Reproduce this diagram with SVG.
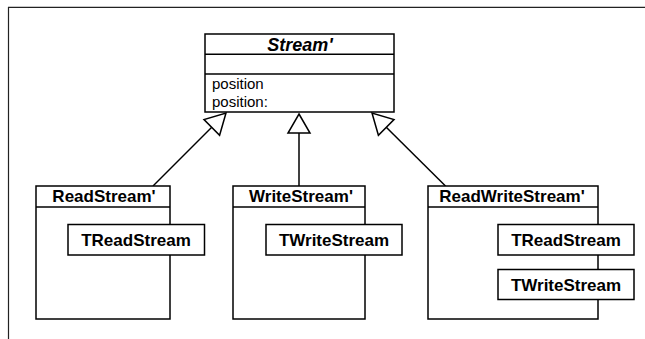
<svg xmlns="http://www.w3.org/2000/svg" width="645" height="339" viewBox="0 0 645 339">
<style>
.box{fill:#fff;stroke:#000;stroke-width:1.5}
.ln{fill:none;stroke:#000;stroke-width:1.5}
.tri{fill:#fff;stroke:#000;stroke-width:1.5;stroke-linejoin:miter}
.h{font-family:"Liberation Sans",Arial,sans-serif;font-weight:bold;font-size:17px;text-anchor:middle}
.hi{font-family:"Liberation Sans",Arial,sans-serif;font-weight:bold;font-style:italic;font-size:18px;text-anchor:middle}
.t{font-family:"Liberation Sans",Arial,sans-serif;font-size:15px}
</style>
<rect width="645" height="339" fill="#fff"/>
<path d="M8.5,340 V7.3 H646" fill="none" stroke="#222" stroke-width="1.2"/>
<g id="connectors">
<line class="ln" x1="153" y1="186" x2="212" y2="127"/>
<polygon class="tri" points="226,113 219.6,135.2 204,119.6"/>
<line class="ln" x1="299" y1="186" x2="299" y2="133"/>
<polygon class="tri" points="299,114 310,133 288,133"/>
<line class="ln" x1="445.5" y1="186" x2="386" y2="127"/>
<polygon class="tri" points="372,113 378.4,135.2 394,119.6"/>
</g>
<g id="Stream">
<rect class="box" x="205" y="34" width="189" height="78"/>
<line class="ln" x1="205" y1="54.3" x2="394" y2="54.3"/>
<line class="ln" x1="205" y1="74" x2="394" y2="74"/>
<text class="hi" x="300" y="51">Stream'</text>
<text class="t" x="212" y="89">position</text>
<text class="t" x="212" y="107">position:</text>
</g>
<g id="ReadStream">
<rect class="box" x="36" y="186" width="134" height="133"/>
<line class="ln" x1="36" y1="207" x2="170" y2="207"/>
<text class="h" x="104" y="201.5">ReadStream'</text>
</g>
<g id="ReadStream-TReadStream">
<rect class="box" x="68" y="224.5" width="136.5" height="30.5"/>
<text class="h" x="136" y="246">TReadStream</text>
</g>
<g id="WriteStream">
<rect class="box" x="233" y="186" width="132" height="133"/>
<line class="ln" x1="233" y1="207" x2="365" y2="207"/>
<text class="h" x="301" y="201.5">WriteStream'</text>
</g>
<g id="WriteStream-TWriteStream">
<rect class="box" x="266" y="224.5" width="136" height="30.5"/>
<text class="h" x="334" y="246">TWriteStream</text>
</g>
<g id="ReadWriteStream">
<rect class="box" x="428" y="186" width="170" height="133"/>
<line class="ln" x1="428" y1="207" x2="598" y2="207"/>
<text class="h" x="512" y="201.5">ReadWriteStream'</text>
</g>
<g id="ReadWriteStream-TReadStream">
<rect class="box" x="498" y="224.5" width="136" height="30.5"/>
<text class="h" x="566" y="246">TReadStream</text>
</g>
<g id="ReadWriteStream-TWriteStream">
<rect class="box" x="498" y="269.5" width="136" height="30"/>
<text class="h" x="566" y="290.5">TWriteStream</text>
</g>
</svg>
